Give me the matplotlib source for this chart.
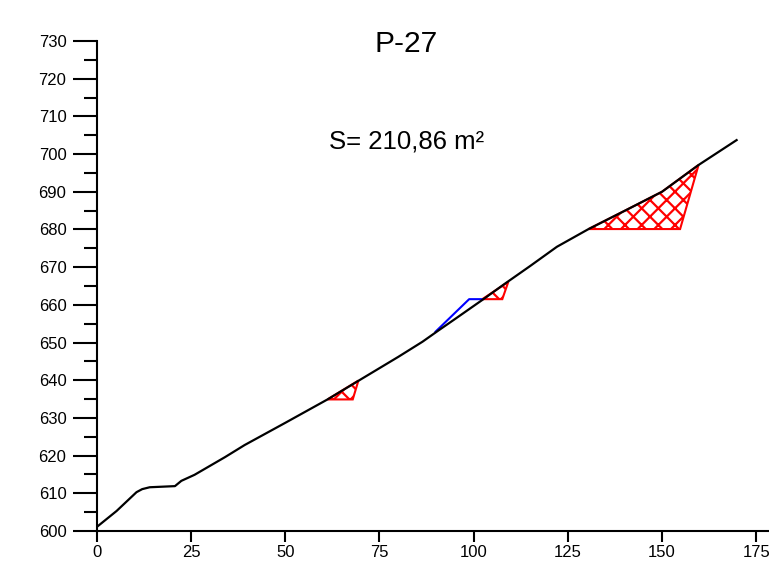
import numpy as np
import matplotlib
matplotlib.use("Agg")
import matplotlib.pyplot as plt
from matplotlib.ticker import MultipleLocator

plt.rcParams['font.family'] = ['Liberation Sans', 'DejaVu Sans']
plt.rcParams['hatch.linewidth'] = 1.6

# ground profile (distance m, elevation m)
ground_x = [0, 5.2, 10.5, 12, 14, 20.7, 22.4, 25.9, 34, 39.2, 50, 61.2, 70, 80,
            86.4, 90.8, 95, 102.3, 108, 115, 122.1, 130.5, 140, 150, 159.7, 169.8]
ground_y = [601.1, 605.3, 610.3, 611.1, 611.6, 611.9, 613.3, 614.9, 619.6, 622.8,
            628.7, 634.9, 640.2, 646.2, 650.2, 653.3, 656.2, 661.3, 665.4, 670.3,
            675.4, 680.1, 684.9, 690.0, 697.1, 703.7]

# design line (blue)
design_x = [89.9, 98.8, 102.3]
design_y = [652.9, 661.5, 661.5]

# cut areas (red hatched)
cut1_x = [61.2, 67.9, 69.4, 61.2]
cut1_y = [634.9, 634.9, 639.9, 634.9]
cut2_x = [102.3, 107.6, 109.2, 102.3]
cut2_y = [661.5, 661.5, 666.1, 661.5]
cut3_x = [130.5, 154.8, 159.7, 150, 140, 130.5]
cut3_y = [680.1, 680.1, 697.1, 690.0, 684.9, 680.1]

title = "P-27"
area_label = "S= 210,86 m²"

fig = plt.figure(figsize=(7.69, 5.62), dpi=100)
ax = fig.add_axes([0.1261, 0.0552, 0.8739, 0.8719])

for cx, cy in [(cut1_x, cut1_y), (cut2_x, cut2_y), (cut3_x, cut3_y)]:
    ax.fill(cx, cy, facecolor='none', edgecolor='red', hatch='xx', linewidth=1.5)

ax.plot(design_x, design_y, color='blue', linewidth=1.5)
ax.plot(ground_x, ground_y, color='black', linewidth=1.6)

ax.set_xlim(0, 178.4)
ax.set_ylim(600, 730)

ax.xaxis.set_major_locator(MultipleLocator(25))
ax.yaxis.set_major_locator(MultipleLocator(10))
ax.yaxis.set_minor_locator(MultipleLocator(5))

for s in ['top', 'right']:
    ax.spines[s].set_visible(False)
for s in ['left', 'bottom']:
    ax.spines[s].set_linewidth(1.5)

ax.tick_params(axis='y', which='major', length=17, width=1.5, direction='out',
               labelsize=12, pad=5)
ax.tick_params(axis='y', which='minor', length=9.5, width=1.5, direction='out')
ax.tick_params(axis='x', which='major', length=8, width=1.5, direction='out',
               labelsize=12, pad=2)

fig.text(406 / 769, 1 - 44 / 562, title, ha='center', va='center', fontsize=21.5)
fig.text(406.5 / 769, 1 - 141 / 562, area_label, ha='center', va='center', fontsize=18.5)

fig.savefig("out.png", dpi=100)
